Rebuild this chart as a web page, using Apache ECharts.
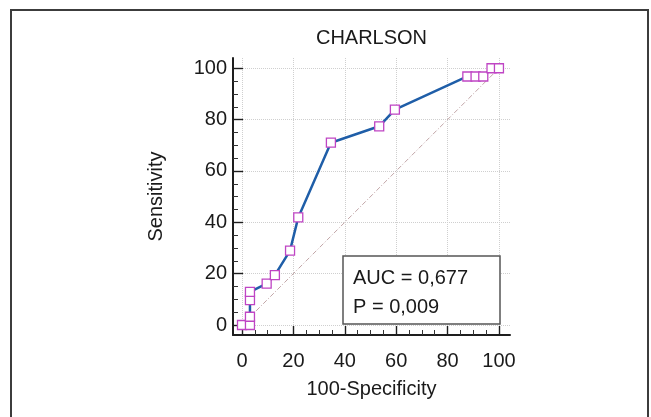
<!DOCTYPE html>
<html>
<head>
<meta charset="utf-8">
<script src="https://cdn.jsdelivr.net/npm/echarts@6/dist/echarts.min.js"></script>
<style>
html,body{margin:0;padding:0;background:#fff;}
#chart{width:651px;height:417px;}
</style>
</head>
<body>
<div id="chart"></div>
<script>
// ---- data ----
var fprValues = [0, 3.1, 3.1, 3.1, 3.1, 9.6, 12.8, 18.7, 21.9, 34.6, 53.4, 59.5, 87.7, 90.9, 93.9, 97.1, 100];
var tprValues = [0, 0, 3.2, 9.7, 12.9, 16.1, 19.4, 29.0, 41.9, 71.0, 77.4, 83.9, 96.8, 96.8, 96.8, 100, 100];
var diagX = [0, 100];
var diagY = [0, 100];
var majorTicks = [0, 20, 40, 60, 80, 100];
var minorTicks = [5, 10, 15, 25, 30, 35, 45, 50, 55, 65, 70, 75, 85, 90, 95];
var titleText = 'CHARLSON';
var xName = '100-Specificity';
var yName = 'Sensitivity';
var statLines = ['AUC = 0,677', 'P = 0,009'];

var FONT = "Arial, 'Liberation Sans', sans-serif";
var rocData = fprValues.map(function (x, i) { return [x, tprValues[i]]; });
var diagData = diagX.map(function (x, i) { return [x, diagY[i]]; });

var gridRect = { left: 233, top: 58, width: 277, height: 277 };
var xMin = -3.5, xMax = 104.3, yMin = -3.9, yMax = 104;

var chart = echarts.init(document.getElementById('chart'), null, { renderer: 'canvas' });
chart.setOption({
  animation: false,
  backgroundColor: '#fff',
  grid: [
    Object.assign({ containLabel: false }, gridRect),
    Object.assign({ containLabel: false }, gridRect)
  ],
  xAxis: [{
    type: 'value', gridIndex: 0, min: xMin, max: xMax, position: 'bottom',
    name: xName, nameLocation: 'middle', nameGap: 44,
    nameTextStyle: { fontFamily: FONT, fontSize: 20, color: '#1a1a1a' },
    axisLine: { show: true, onZero: false, lineStyle: { color: '#1e1e1e', width: 2 } },
    axisTick: { show: true, inside: true, length: 9, customValues: majorTicks, lineStyle: { color: '#1e1e1e', width: 1.4 } },
    axisLabel: { show: true, margin: 16, customValues: majorTicks, fontFamily: FONT, fontSize: 20, color: '#1a1a1a' },
    splitLine: { show: true, lineStyle: { color: '#cfcfcf', type: 'dotted', width: 1 } }
  }, {
    type: 'value', gridIndex: 1, min: xMin, max: xMax, position: 'bottom',
    axisLine: { show: false, onZero: false },
    axisTick: { show: true, inside: true, length: 5, customValues: minorTicks, lineStyle: { color: '#333', width: 1 } },
    axisLabel: { show: false },
    splitLine: { show: false }
  }],
  yAxis: [{
    type: 'value', gridIndex: 0, min: yMin, max: yMax, position: 'left',
    name: yName, nameLocation: 'middle', nameGap: 67, nameRotate: 90,
    nameTextStyle: { fontFamily: FONT, fontSize: 20, color: '#1a1a1a' },
    axisLine: { show: true, onZero: false, lineStyle: { color: '#1e1e1e', width: 2 } },
    axisTick: { show: true, inside: true, length: 10, customValues: majorTicks, lineStyle: { color: '#1e1e1e', width: 1.4 } },
    axisLabel: { show: true, margin: 6, customValues: majorTicks, fontFamily: FONT, fontSize: 20, color: '#1a1a1a' },
    splitLine: { show: true, lineStyle: { color: '#cfcfcf', type: 'dotted', width: 1 } }
  }, {
    type: 'value', gridIndex: 1, min: yMin, max: yMax, position: 'left',
    axisLine: { show: false, onZero: false },
    axisTick: { show: true, inside: true, length: 5, customValues: minorTicks, lineStyle: { color: '#333', width: 1 } },
    axisLabel: { show: false },
    splitLine: { show: false }
  }],
  series: [{
    type: 'line', xAxisIndex: 0, yAxisIndex: 0,
    data: diagData, symbol: 'none', silent: true, z: 1,
    lineStyle: { color: '#c2a6a8', width: 1, type: [5, 2, 1, 2] }
  }, {
    type: 'line', xAxisIndex: 0, yAxisIndex: 0,
    data: rocData, symbol: 'rect', symbolSize: 9, showAllSymbol: true, z: 3,
    lineStyle: { color: '#1f5ea8', width: 2.5 },
    itemStyle: { color: '#ffffff', borderColor: '#bf45c4', borderWidth: 1.3 }
  }],
  graphic: [{
    type: 'rect', z: 100, silent: true,
    shape: { x: 11, y: 10, width: 637, height: 430 },
    style: { fill: 'none', stroke: '#3c3c3c', lineWidth: 2 }
  }, {
    type: 'text', z: 100, x: 371.5, y: 38,
    style: { text: titleText, fontFamily: FONT, fontSize: 20, fill: '#1a1a1a', align: 'center', verticalAlign: 'middle' }
  }, {
    type: 'rect', z: 100,
    shape: { x: 343, y: 256, width: 157, height: 68 },
    style: { fill: '#fff', stroke: '#555', lineWidth: 1.5 }
  }, {
    type: 'text', z: 101, x: 353, y: 278,
    style: { text: statLines[0], fontFamily: FONT, fontSize: 20, fill: '#1a1a1a', align: 'left', verticalAlign: 'middle' }
  }, {
    type: 'text', z: 101, x: 353, y: 307,
    style: { text: statLines[1], fontFamily: FONT, fontSize: 20, fill: '#1a1a1a', align: 'left', verticalAlign: 'middle' }
  }]
});
</script>
</body>
</html>
